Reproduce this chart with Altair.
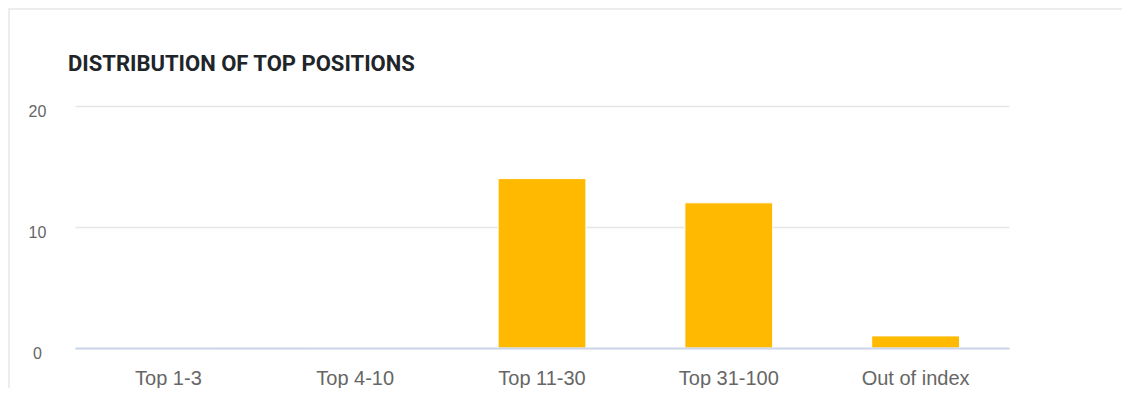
import altair as alt
import pandas as pd

categories = ["Top 1-3", "Top 4-10", "Top 11-30", "Top 31-100", "Out of index"]
counts = [0, 0, 14, 12, 1]
y_ticks = [0, 10, 20]
title_text = "DISTRIBUTION OF TOP POSITIONS"

df = pd.DataFrame({"category": categories, "count": counts})

W, H = 934, 242

bars = alt.Chart(df).mark_bar(color="#FFB900", stroke="#ffffff", strokeWidth=1).encode(
    x=alt.X("category:N", sort=categories, title=None,
            scale=alt.Scale(paddingInner=0.53, paddingOuter=0.265),
            axis=alt.Axis(labelAngle=0, labelFont="Liberation Sans", labelFontSize=20,
                          labelColor="#666666", labelPadding=20, ticks=False,
                          domainColor="#ccd6eb", domainWidth=2, grid=False, zindex=1)),
    y=alt.Y("count:Q", title=None, scale=alt.Scale(domain=[0, 20], nice=False),
            axis=alt.Axis(values=y_ticks, labelFont="Liberation Sans", labelFontSize=16,
                          labelColor="#666666", labelAlign="center", labelPadding=38,
                          labelOffset=5, ticks=False, domain=False,
                          gridColor="#e6e6e6", gridWidth=1.5)),
)

title = alt.Chart(alt.Data(values=[{}])).mark_text(
    align="left", baseline="alphabetic", font="Roboto", fontSize=22,
    fontWeight="bold", color="#212529").encode(
    x=alt.value(-7), y=alt.value(-35), text=alt.value(title_text))

border_top = alt.Chart(alt.Data(values=[{}])).mark_rule(color="#ededed", strokeWidth=2).encode(
    x=alt.value(-67), x2=alt.value(W + 113), y=alt.value(-97))
border_left = alt.Chart(alt.Data(values=[{}])).mark_rule(color="#ededed", strokeWidth=2).encode(
    x=alt.value(-66), y=alt.value(-97), y2=alt.value(H + 60))

chart = alt.layer(border_top, border_left, title, bars).properties(
    width=W, height=H,
    autosize=alt.AutoSizeParams(type="none"),
    padding={"left": 67, "top": 98, "right": 113, "bottom": 40},
).configure(background="#ffffff").configure_view(stroke=None)

chart.save("out.html", embed_options={"renderer": "svg", "actions": False})
